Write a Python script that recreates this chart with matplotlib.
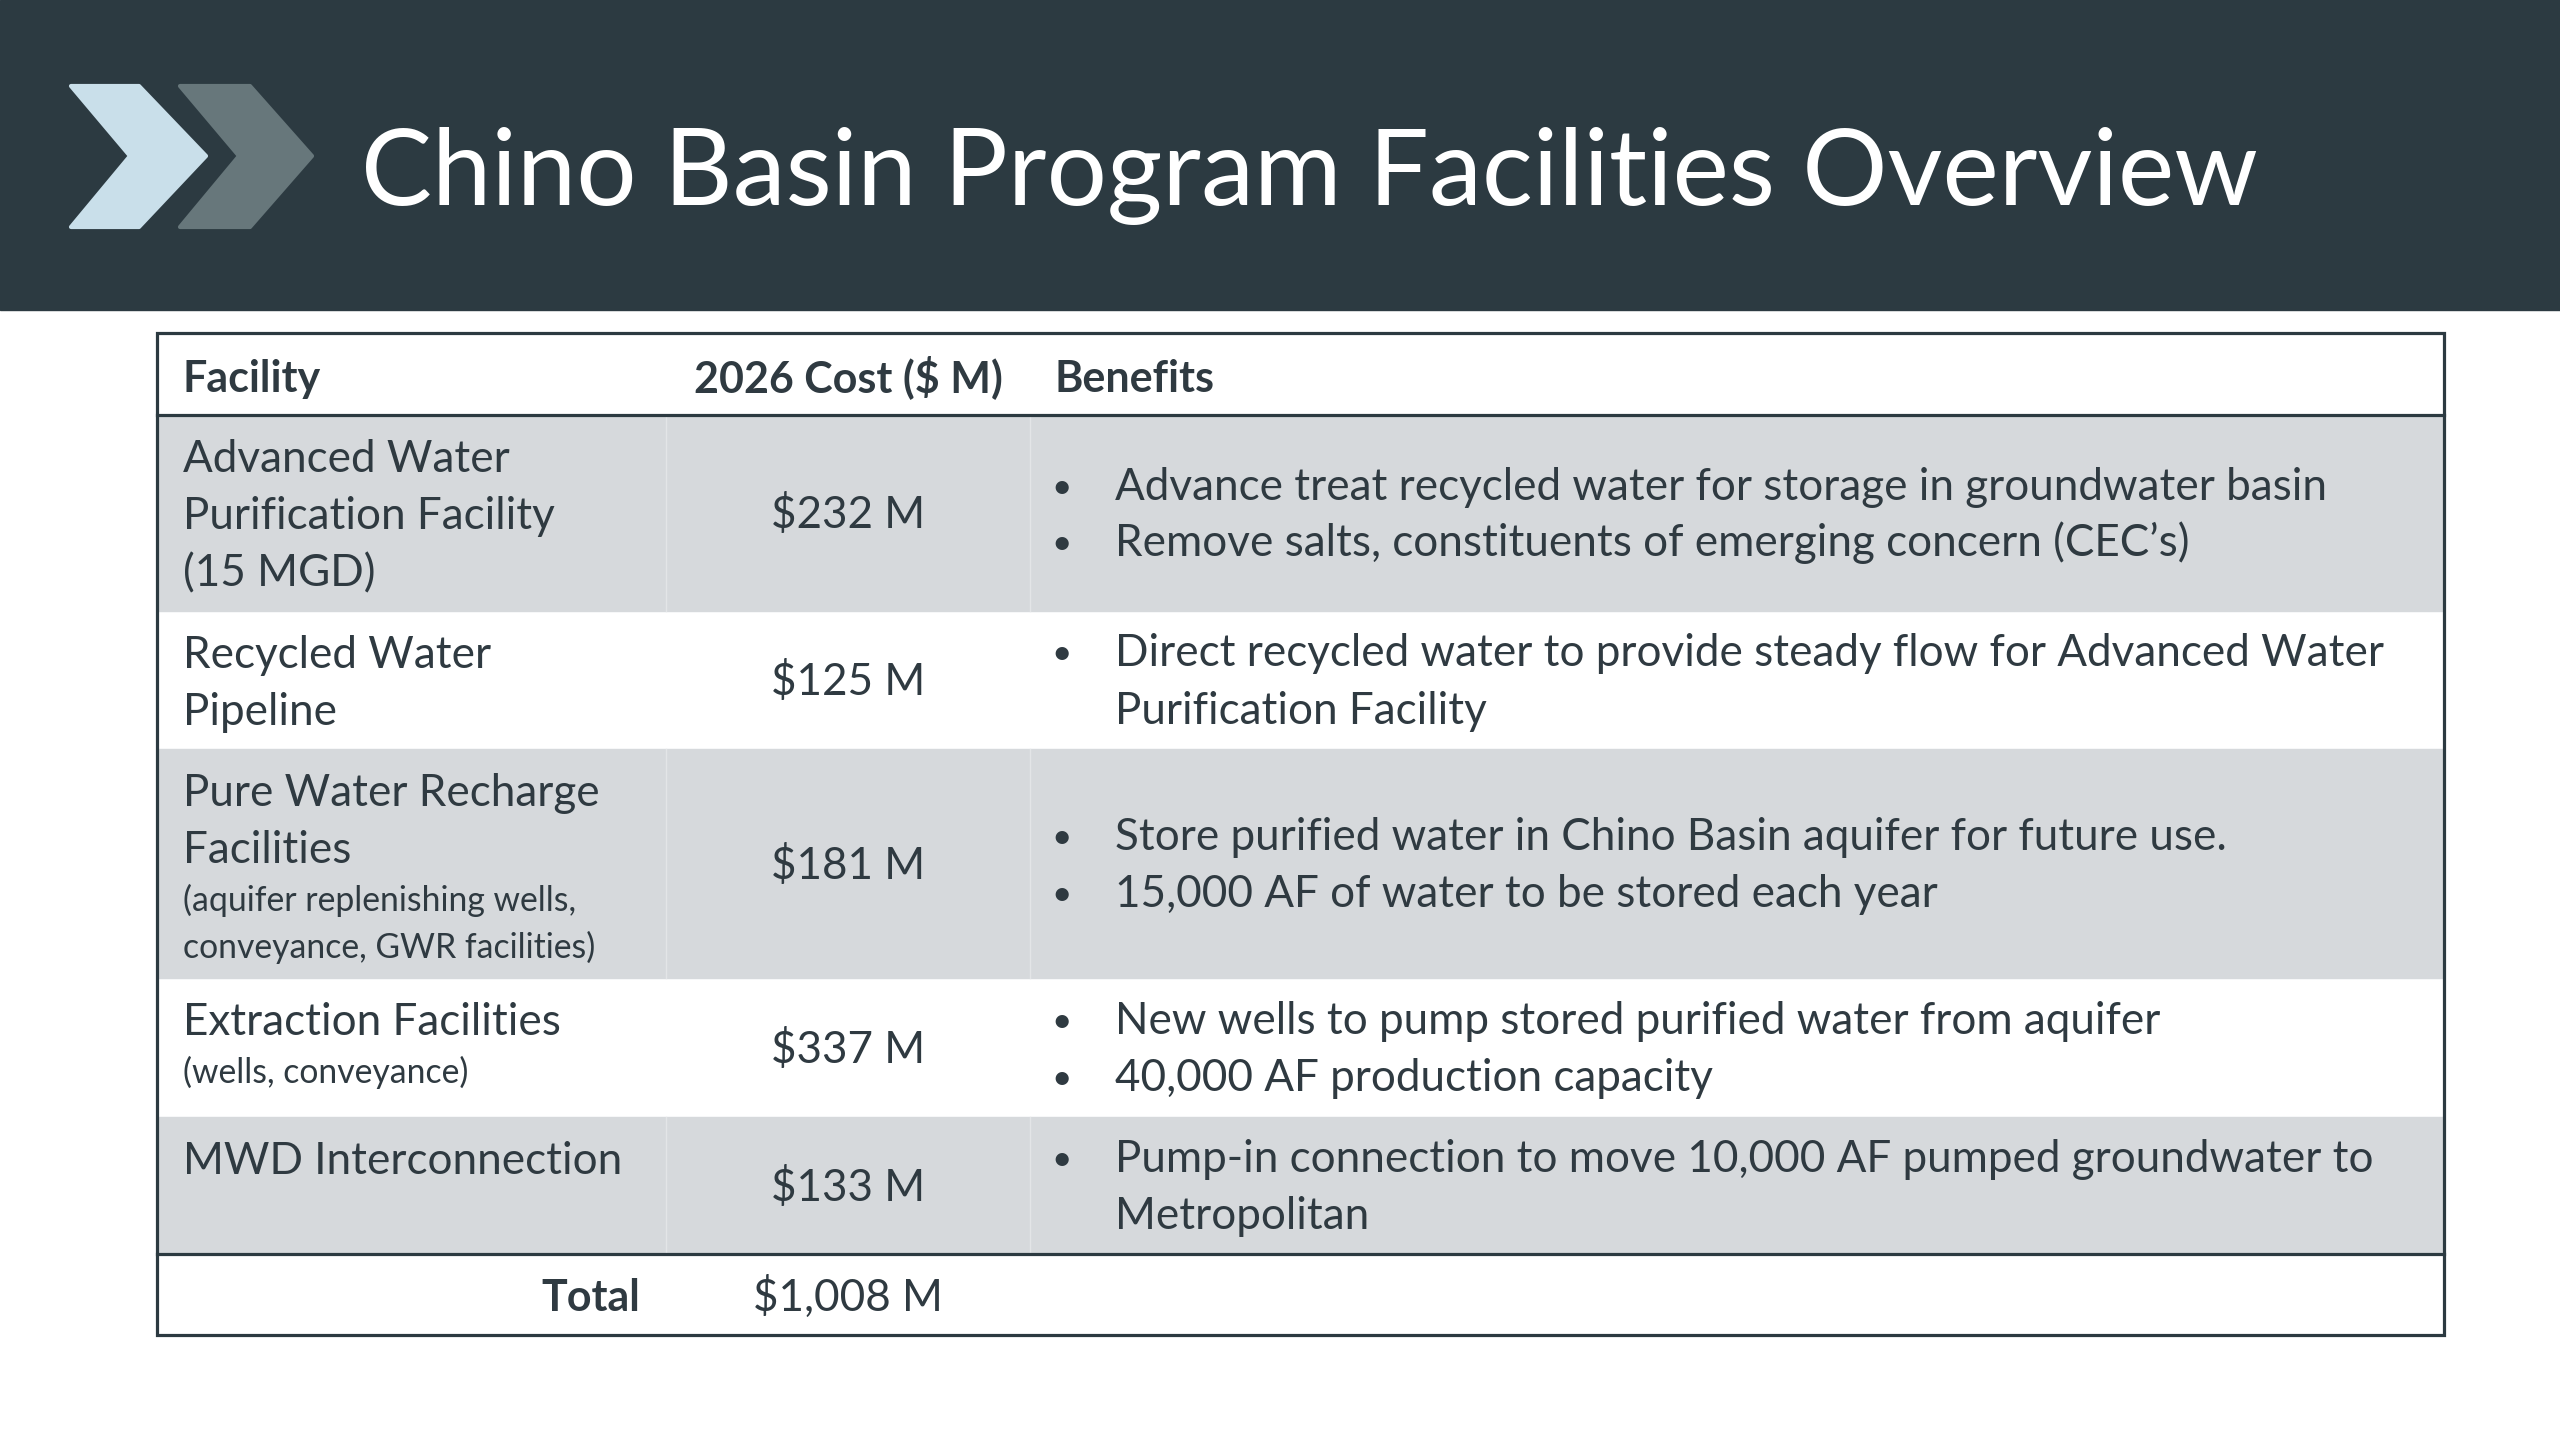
import matplotlib
matplotlib.use("Agg")
import matplotlib.pyplot as plt
from matplotlib.patches import Rectangle, Polygon

# table content
title = "Chino Basin Program Facilities Overview"
headers = ["Facility", "2026 Cost ($ M)", "Benefits"]
facility_names = [
    ["Advanced Water", "Purification Facility", "(15 MGD)"],
    ["Recycled Water", "Pipeline"],
    ["Pure Water Recharge", "Facilities"],
    ["Extraction Facilities"],
    ["MWD Interconnection"],
]
facility_notes = [
    [],
    [],
    ["(aquifer replenishing wells,", "conveyance, GWR facilities)"],
    ["(wells, conveyance)"],
    [],
]
costs = [232, 125, 181, 337, 133]
benefits = [
    ["Advance treat recycled water for storage in groundwater basin",
     "Remove salts, constituents of emerging concern (CEC\u2019s)"],
    ["Direct recycled water to provide steady flow for Advanced Water",
     "Purification Facility"],
    ["Store purified water in Chino Basin aquifer for future use.",
     "15,000 AF of water to be stored each year"],
    ["New wells to pump stored purified water from aquifer",
     "40,000 AF production capacity"],
    ["Pump-in connection to move 10,000 AF pumped groundwater to",
     "Metropolitan"],
]
bullet_lines = [[True, True], [True, False], [True, True], [True, True], [True, False]]
total = sum(costs)

DARK = "#2c3a41"
TEXT = "#2f3a41"
GRAY = "#d6d9dc"
FONT = "Lato"

fig = plt.figure(figsize=(25.6, 14.4), dpi=100)
ax = fig.add_axes([0, 0, 1, 1])
ax.set_xlim(0, 2560)
ax.set_ylim(1440, 0)
ax.axis("off")
renderer = fig.canvas.get_renderer()


def fit_size(text, target, weight="normal"):
    t = fig.text(0, 0, text, fontsize=100, family=FONT, weight=weight)
    w = t.get_window_extent(renderer).width
    t.remove()
    return 100 * target / w


title_fs = fit_size(title, 1897)
body_fs = fit_size(benefits[0][0], 1211)
bold_fs = fit_size(headers[1], 308, "bold")
note_fs = fit_size(facility_notes[2][1], 413)

# header band + chevrons
ax.add_patch(Rectangle((0, 0), 2560, 310, color=DARK, zorder=0))
ax.add_patch(Polygon([(71, 86), (139, 86), (206, 156), (139, 227), (71, 227), (130, 156)],
                     closed=True, fc="#c9dfea", ec="#c9dfea", lw=3, joinstyle="round"))
ax.add_patch(Polygon([(180, 86), (250, 86), (312, 156), (250, 227), (180, 227), (239, 156)],
                     closed=True, fc="#67777b", ec="#67777b", lw=3, joinstyle="round"))
ax.text(361, 205, title, fontsize=title_fs, family=FONT, color="white", va="baseline")

# table geometry
left, right = 157, 2444
col1, col2 = 666, 1030
top, head_bot = 333, 415
row_edges = [415, 611, 749, 978, 1117, 1254]
bottom = 1335
cost_x = (col1 + col2) / 2
line_gap = 57
note_gap = 47

for i in range(len(costs)):
    y0, y1 = row_edges[i], row_edges[i + 1]
    if i % 2 == 0:
        ax.add_patch(Rectangle((left, y0), right - left, y1 - y0, color=GRAY, zorder=0))
        for cx in (col1, col2):
            ax.plot([cx, cx], [y0, y1], color="#e3e5e7", lw=1, zorder=1)
    mid = (y0 + y1) / 2
    # facility name, top aligned
    yb = y0 + 57
    for line in facility_names[i]:
        ax.text(183, yb, line, fontsize=body_fs, family=FONT, color=TEXT, va="baseline")
        yb += line_gap
    yb -= 9
    for line in facility_notes[i]:
        ax.text(183, yb, line, fontsize=note_fs, family=FONT, color=TEXT, va="baseline")
        yb += note_gap
    # cost, centred
    ax.text(cost_x, mid + 15, f"${costs[i]} M", fontsize=body_fs, family=FONT,
            color=TEXT, ha="center", va="baseline")
    # benefits, centred block
    n = len(benefits[i])
    yb = mid - (n - 1) * line_gap / 2 + 15
    for line, has_bullet in zip(benefits[i], bullet_lines[i]):
        if has_bullet:
            ax.text(1062, yb - 2, "\u2022", fontsize=body_fs * 0.8, family=FONT, color=TEXT,
                    ha="center", va="baseline")
        ax.text(1115, yb, line, fontsize=body_fs, family=FONT, color=TEXT, va="baseline")
        yb += line_gap

# header row
hy = 392
ax.text(183, hy, headers[0], fontsize=bold_fs, family=FONT, weight="bold", color=TEXT, va="baseline")
ax.text(cost_x, hy, headers[1], fontsize=bold_fs, family=FONT, weight="bold", color=TEXT,
        ha="center", va="baseline")
ax.text(1054, hy, headers[2], fontsize=bold_fs, family=FONT, weight="bold", color=TEXT, va="baseline")

# total row
ty = 1311
ax.text(640, ty, "Total", fontsize=bold_fs, family=FONT, weight="bold", color=TEXT,
        ha="right", va="baseline")
ax.text(cost_x, ty, f"${total:,} M", fontsize=body_fs, family=FONT, color=TEXT,
        ha="center", va="baseline")

# borders
ax.add_patch(Rectangle((left, top), right - left, bottom - top, fill=False, ec=DARK, lw=2.3, zorder=3))
ax.plot([left, right], [head_bot, head_bot], color=DARK, lw=2.3, zorder=3)
ax.plot([left, right], [row_edges[-1], row_edges[-1]], color=DARK, lw=2.3, zorder=3)

fig.savefig("out.png", dpi=100, facecolor="white")
